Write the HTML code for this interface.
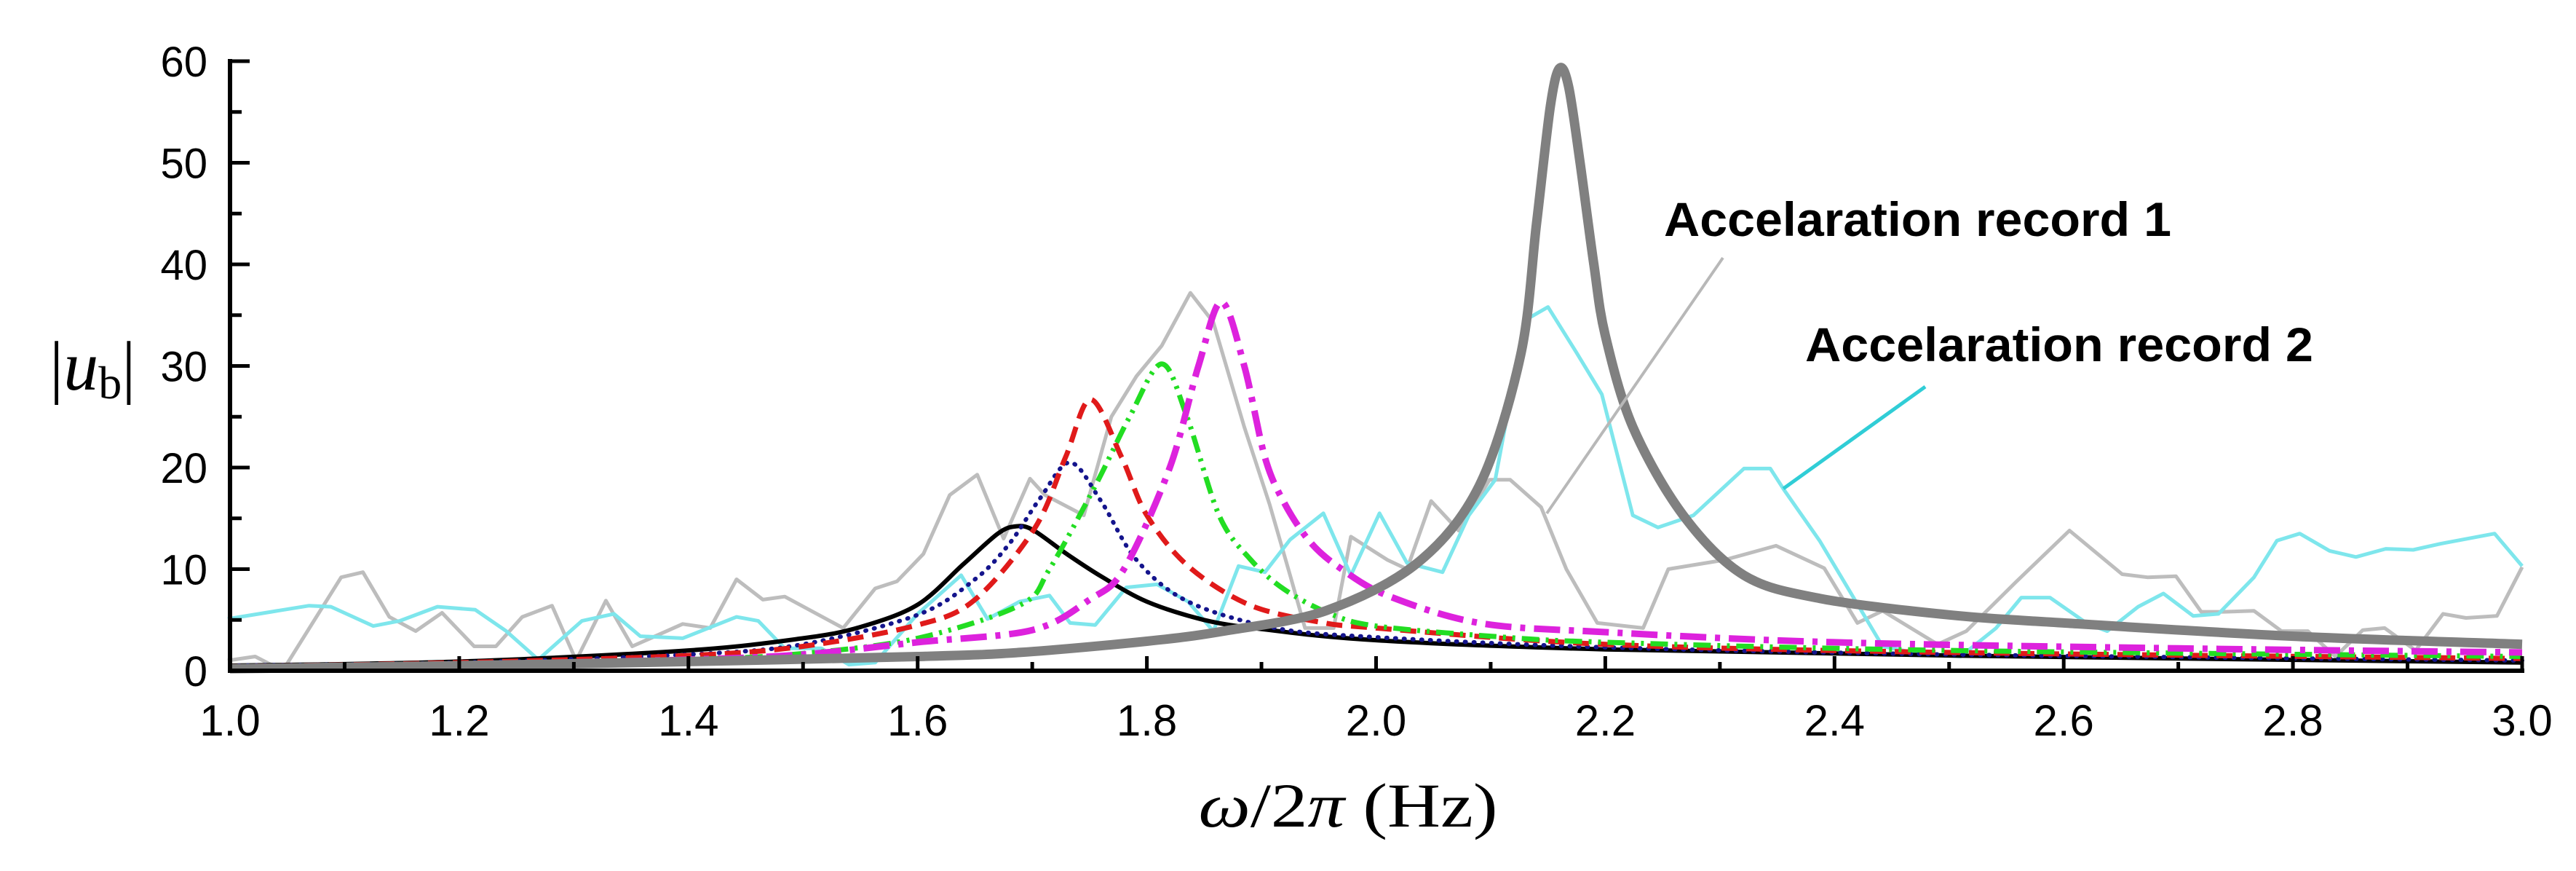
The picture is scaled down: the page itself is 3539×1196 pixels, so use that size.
<!DOCTYPE html>
<html><head><meta charset="utf-8"><title>Frequency response |u_b|</title>
<style>
html,body{margin:0;padding:0;background:#fff;}
svg{display:block;}
</style></head>
<body>
<svg id="chart" width="3539" height="1196" viewBox="0 0 3539 1196" xmlns="http://www.w3.org/2000/svg">
  <g id="series"></g>
  <g id="axes"></g>
  <text x="68" y="535" font-family="Liberation Serif, serif" font-size="96"><tspan>|</tspan><tspan font-style="italic">u</tspan><tspan font-size="64" dy="12">b</tspan><tspan dy="-12">|</tspan></text>
  <text x="1852" y="1135" text-anchor="middle" font-family="Liberation Serif, serif" font-size="86" textLength="411" lengthAdjust="spacingAndGlyphs"><tspan font-style="italic">ω</tspan>/2<tspan font-style="italic">π</tspan> (Hz)</text>
  <line x1="2367" y1="354" x2="2125" y2="705" stroke="#b8b8b8" stroke-width="4"/>
  <line x1="2645" y1="531" x2="2450" y2="671" stroke="#30cdd6" stroke-width="5"/>
  <text x="2286" y="324" font-family="Liberation Sans, sans-serif" font-weight="bold" font-size="66" textLength="697" lengthAdjust="spacingAndGlyphs">Accelaration record 1</text>
  <text x="2480" y="496" font-family="Liberation Sans, sans-serif" font-weight="bold" font-size="66" textLength="698" lengthAdjust="spacingAndGlyphs">Accelaration record 2</text>
</svg>
<script>
// ---- data ----
const xTicks = [1.0,1.2,1.4,1.6,1.8,2.0,2.2,2.4,2.6,2.8,3.0];
const xTickLabels = ["1.0","1.2","1.4","1.6","1.8","2.0","2.2","2.4","2.6","2.8","3.0"];
const yTicks = [0,10,20,30,40,50,60];
const yTickLabels = ["0","10","20","30","40","50","60"];

const rec1X = [0.998,1.022,1.046,1.097,1.116,1.139,1.162,1.185,1.213,1.232,1.255,1.281,1.302,1.328,1.351,1.395,1.419,1.442,1.465,1.484,1.535,1.563,1.582,1.605,1.628,1.652,1.675,1.698,1.711,1.745,1.769,1.791,1.813,1.838,1.858,1.885,1.907,1.925,1.938,1.963,1.978,2.01,2.027,2.048,2.072,2.099,2.117,2.144,2.166,2.193,2.233,2.255,2.304,2.349,2.391,2.42,2.442,2.49,2.515,2.558,2.605,2.651,2.673,2.698,2.72,2.74,2.766,2.79,2.813,2.837,2.861,2.88,2.907,2.931,2.951,2.978,3.0];
const rec1Y = [1.0,1.4,0.0,9.2,9.7,5.3,3.9,5.7,2.4,2.4,5.3,6.4,1.0,6.9,2.4,4.6,4.2,9.0,7.0,7.3,4.2,8.1,8.8,11.5,17.3,19.3,13.0,18.9,17.3,15.3,25.0,29.0,32.0,37.2,34.3,24.0,16.4,9.4,4.2,4.2,13.2,10.9,10.0,16.7,13.8,18.8,18.8,16.1,10.0,4.7,4.2,10.0,10.9,12.3,10.1,4.7,5.9,2.6,3.9,8.7,13.8,9.5,9.2,9.3,5.8,5.8,5.9,3.9,3.9,1.4,4.0,4.2,2.0,5.6,5.2,5.4,10.2];

const rec2X = [0.998,1.036,1.069,1.088,1.125,1.148,1.181,1.214,1.241,1.269,1.307,1.335,1.358,1.395,1.442,1.461,1.484,1.516,1.54,1.563,1.6,1.638,1.661,1.689,1.715,1.733,1.755,1.782,1.809,1.836,1.858,1.88,1.903,1.925,1.954,1.978,2.003,2.027,2.058,2.081,2.104,2.13,2.15,2.175,2.197,2.224,2.246,2.277,2.321,2.344,2.356,2.387,2.442,2.473,2.51,2.541,2.563,2.588,2.621,2.638,2.665,2.687,2.713,2.735,2.766,2.786,2.806,2.832,2.855,2.881,2.905,2.929,2.976,3.0];
const rec2Y = [5.1,5.8,6.4,6.3,4.4,4.9,6.3,6.0,3.9,1.1,4.9,5.6,3.4,3.2,5.3,4.9,2.2,2.2,0.6,0.8,5.6,9.4,5.1,6.8,7.4,4.7,4.5,8.2,8.5,6.8,3.9,10.3,9.7,12.9,15.5,9.4,15.5,10.6,9.7,15.3,18.8,34.5,35.8,31.3,27.2,15.3,14.1,15.3,19.9,19.9,17.8,12.8,2.4,1.7,1.4,4.2,7.2,7.2,4.6,3.9,6.3,7.6,5.4,5.6,9.2,12.8,13.5,11.8,11.2,12.0,11.9,12.5,13.5,10.3];

const blackX = [1.0,1.2,1.4,1.5,1.55,1.6,1.64,1.67,1.685,1.7,1.73,1.76,1.8,1.85,1.9,2.0,2.2,2.5,3.0];
const blackY = [0.5,0.9,2.0,3.2,4.3,6.5,10.5,13.5,14.2,13.9,11.5,9.3,6.8,5.0,4.1,3.0,2.1,1.5,0.8];

const blueX = [1.0,1.2,1.4,1.5,1.6,1.65,1.68,1.707,1.733,1.76,1.791,1.836,1.912,2.0,2.2,2.5,3.0];
const blueY = [0.5,0.8,1.6,2.6,5.5,9.0,12.5,17.0,20.5,16.7,10.9,6.8,4.2,3.3,2.3,1.6,1.0];

const redX = [1.0,1.2,1.4,1.5,1.6,1.65,1.702,1.729,1.751,1.778,1.8,1.836,1.889,1.95,2.0,2.2,2.5,3.0];
const redY = [0.4,0.8,1.5,2.4,4.5,7.0,14.0,21.0,26.7,21.0,15.3,10.3,6.5,4.8,4.2,2.6,1.8,1.2];

const greenX = [1.0,1.2,1.4,1.5,1.6,1.69,1.715,1.755,1.785,1.813,1.835,1.863,1.89,1.92,1.96,2.0,2.1,2.2,2.5,3.0];
const greenY = [0.3,0.6,1.1,1.7,3.2,6.5,10.0,18.2,25.0,30.2,25.0,15.3,11.0,8.0,5.6,4.4,3.4,2.8,2.0,1.4];

const magentaX = [1.0,1.2,1.4,1.5,1.6,1.7,1.75,1.78,1.82,1.845,1.865,1.885,1.903,1.92,1.943,1.97,2.01,2.09,2.2,2.4,2.7,3.0];
const magentaY = [0.3,0.6,1.1,1.6,2.8,4.0,7.0,10.0,20.0,30.0,36.3,30.0,21.0,16.5,12.6,10.0,7.4,4.7,3.8,2.8,2.2,1.8];

const thickX = [1.0,1.2,1.4,1.6,1.689,1.8,1.867,1.956,2.036,2.09,2.126,2.14,2.152,2.16,2.168,2.178,2.19,2.2,2.224,2.268,2.321,2.388,2.5,2.6,2.8,3.0];
const thickY = [0.2,0.5,0.9,1.4,1.8,2.9,3.9,5.9,10.6,18.2,31.0,44.0,55.5,59.3,57.5,50.0,40.0,33.0,24.0,15.3,9.4,7.1,5.5,4.7,3.4,2.6];

// ---- axes mapping ----
const X0 = 316, X1 = 3465, Y0 = 921, Y1 = 84;
function sx(f){ return X0 + (f - 1.0) / 2.0 * (X1 - X0); }
function sy(v){ return Y0 - v / 60 * (Y0 - Y1); }

const NS = "http://www.w3.org/2000/svg";
const seriesG = document.getElementById('series');
const axesG = document.getElementById('axes');

function linePath(xs, ys){
  let d = '';
  for (let i = 0; i < xs.length; i++) d += (i ? 'L' : 'M') + sx(xs[i]).toFixed(1) + ',' + sy(ys[i]).toFixed(1);
  return d;
}
function smoothPath(xs, ys){
  const p = xs.map((x, i) => [sx(x), sy(ys[i])]);
  let d = 'M' + p[0][0].toFixed(1) + ',' + p[0][1].toFixed(1);
  for (let i = 0; i < p.length - 1; i++){
    const p0 = p[i-1] || p[i], p1 = p[i], p2 = p[i+1], p3 = p[i+2] || p[i+1];
    const t = 0.16;
    const c1 = [p1[0] + (p2[0]-p0[0])*t, p1[1] + (p2[1]-p0[1])*t];
    const c2 = [p2[0] - (p3[0]-p1[0])*t, p2[1] - (p3[1]-p1[1])*t];
    d += 'C' + c1[0].toFixed(1) + ',' + c1[1].toFixed(1) + ' ' + c2[0].toFixed(1) + ',' + c2[1].toFixed(1) + ' ' + p2[0].toFixed(1) + ',' + p2[1].toFixed(1);
  }
  return d;
}
function addPath(d, stroke, width, dash, cap){
  const el = document.createElementNS(NS, 'path');
  el.setAttribute('d', d);
  el.setAttribute('fill', 'none');
  el.setAttribute('stroke', stroke);
  el.setAttribute('stroke-width', width);
  el.setAttribute('stroke-linejoin', 'round');
  el.setAttribute('stroke-linecap', cap || 'butt');
  if (dash) el.setAttribute('stroke-dasharray', dash);
  seriesG.appendChild(el);
  return el;
}

let el;
el = addPath(linePath(rec1X, rec1Y), '#bdbdbd', 5);


el = addPath(linePath(rec2X, rec2Y), '#7ee6ec', 5);


el = addPath(smoothPath(blackX, blackY), '#000000', 6);


el = addPath(smoothPath(blueX, blueY), '#14148c', 6, '1 11', 'round');


el = addPath(smoothPath(redX, redY), '#e01a1a', 7, '22 12');


el = addPath(smoothPath(greenX, greenY), '#22dd22', 7, '24 9 4 9 4 9');


el = addPath(smoothPath(magentaX, magentaY), '#dd22dd', 9, '36 12 7 12');


el = addPath(smoothPath(thickX, thickY), '#808080', 13);



// ---- axes ----
function mk(tag, attrs){
  const e = document.createElementNS(NS, tag);
  for (const k in attrs) e.setAttribute(k, attrs[k]);
  axesG.appendChild(e);
  return e;
}
let a;
a = mk('line', {x1: X0, y1: Y1 - 3, x2: X0, y2: Y0 + 3, stroke: '#000', 'stroke-width': 6});


a = mk('line', {x1: X0 - 3, y1: Y0, x2: X1 + 3, y2: Y0, stroke: '#000', 'stroke-width': 6});



for (let i = 0; i < yTicks.length; i++){
  const y = sy(yTicks[i]);
  a = mk('line', {x1: X0, y1: y, x2: X0 + 27, y2: y, stroke: '#000', 'stroke-width': 5});
  
  
  a = mk('text', {x: 285, y: y + 21, 'text-anchor': 'end', 'font-family': 'Liberation Sans, sans-serif', 'font-size': 58});
  a.textContent = yTickLabels[i];
  
  
  if (i < yTicks.length - 1){
    const ym = sy(yTicks[i] + 5);
    a = mk('line', {x1: X0, y1: ym, x2: X0 + 16, y2: ym, stroke: '#000', 'stroke-width': 5});
    
    
  }
}
for (let i = 0; i < xTicks.length; i++){
  const x = sx(xTicks[i]);
  a = mk('line', {x1: x, y1: Y0, x2: x, y2: Y0 - 20, stroke: '#000', 'stroke-width': 5});
  
  
  a = mk('text', {x: x, y: 1010, 'text-anchor': 'middle', 'font-family': 'Liberation Sans, sans-serif', 'font-size': 60});
  a.textContent = xTickLabels[i];
  
  
  if (i < xTicks.length - 1){
    const xm = sx(xTicks[i] + 0.1);
    a = mk('line', {x1: xm, y1: Y0, x2: xm, y2: Y0 - 12, stroke: '#000', 'stroke-width': 5});
    
    
  }
}
</script>
</body></html>
